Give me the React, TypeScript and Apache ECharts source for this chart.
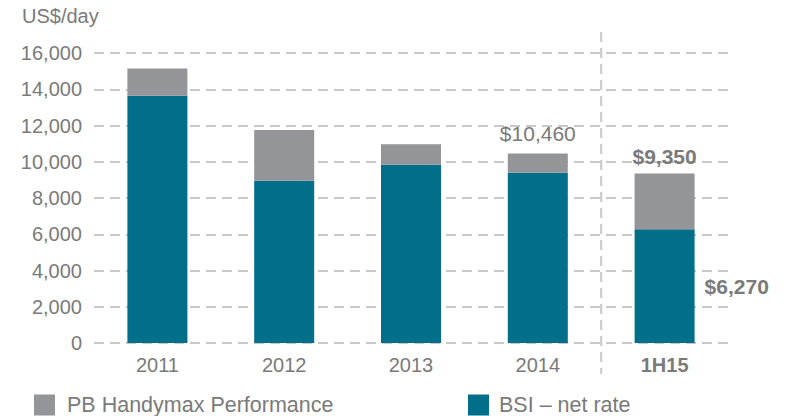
import React, { useEffect, useRef } from "react";
import * as echarts from "echarts";

const categories = ["2011", "2012", "2013", "2014", "1H15"];
const bsiNetRate = [13640, 8950, 9830, 9400, 6270];
const pbTotal = [15150, 11750, 10970, 10460, 9350];
const pbPremium = pbTotal.map((t, i) => t - bsiNetRate[i]);
const yTicks = { min: 0, max: 16000, interval: 2000 };

const TEAL = "#016f8a";
const GREY = "#939598";
const TEXT = "#7a7a7a";
const FONT = "Liberation Sans, Arial, sans-serif";

const fmt = (v: number) => "$" + v.toLocaleString("en-US");

export default function App() {
  const ref = useRef<HTMLDivElement>(null);
  useEffect(() => {
    if (!ref.current) return;
    const chart = echarts.init(ref.current, null, { renderer: "svg" });
    const legendText = { color: TEXT, fontSize: 21.5, fontFamily: FONT, lineHeight: 21, padding: [0, 0, 0, 7] };
    chart.setOption({
      animation: false,
      textStyle: { fontFamily: FONT },
      grid: { left: 94, right: 60, top: 53, bottom: 73 },
      legend: [
        {
          data: ["PB Handymax Performance"],
          left: 34,
          top: 394,
          padding: 0,
          itemWidth: 21,
          itemHeight: 21,
          icon: "rect",
          textStyle: legendText,
        },
        {
          data: ["BSI \u2013 net rate"],
          left: 468,
          top: 394,
          padding: 0,
          itemWidth: 21,
          itemHeight: 21,
          icon: "rect",
          textStyle: { ...legendText, padding: [0, 0, 0, 5] },
        },
      ],
      xAxis: {
        type: "category",
        data: categories,
        axisLine: { show: false },
        axisTick: { show: false },
        axisLabel: {
          color: TEXT,
          fontSize: 20,
          margin: 12,
          fontFamily: FONT,
          formatter: (v: string) => (v === "1H15" ? "{b|" + v + "}" : v),
          rich: { b: { fontWeight: "bold", fontSize: 20, color: TEXT, fontFamily: FONT } },
        },
      },
      yAxis: {
        type: "value",
        min: yTicks.min,
        max: yTicks.max,
        interval: yTicks.interval,
        axisLine: { show: false },
        axisTick: { show: false },
        axisLabel: {
          color: TEXT,
          fontSize: 20,
          margin: 12,
          fontFamily: FONT,
          formatter: (v: number) => v.toLocaleString("en-US"),
        },
        splitLine: { lineStyle: { color: "#c8c8c8", width: 2, type: [10, 6] } },
      },
      series: [
        {
          name: "BSI \u2013 net rate",
          type: "bar",
          stack: "s",
          barWidth: 60,
          itemStyle: { color: TEAL },
          data: bsiNetRate.map((v, i) =>
            i === 4
              ? {
                  value: v,
                  label: {
                    show: true,
                    position: "right",
                    distance: 10,
                    formatter: () => fmt(v),
                    color: TEXT,
                    fontSize: 21,
                    fontWeight: "bold",
                    fontFamily: FONT,
                  },
                }
              : v
          ),
        },
        {
          name: "PB Handymax Performance",
          type: "bar",
          stack: "s",
          barWidth: 60,
          itemStyle: { color: GREY },
          data: pbPremium.map((v, i) =>
            i >= 3
              ? {
                  value: v,
                  label: {
                    show: true,
                    position: "top",
                    distance: i === 3 ? 9 : 7,
                    formatter: () => fmt(pbTotal[i]),
                    color: TEXT,
                    fontSize: 21,
                    fontWeight: i === 4 ? "bold" : "normal",
                    fontFamily: FONT,
                  },
                }
              : v
          ),
        },
      ],
    });
    const x3 = chart.convertToPixel({ xAxisIndex: 0 }, categories[3]) as number;
    const x4 = chart.convertToPixel({ xAxisIndex: 0 }, categories[4]) as number;
    const xs = (x3 + x4) / 2;
    chart.setOption({
      graphic: [
        {
          type: "line",
          shape: { x1: xs, y1: 32, x2: xs, y2: 374 },
          style: { stroke: "#c8c8c8", lineWidth: 2, lineDash: [10, 6] },
          z: 0,
        },
        {
          type: "text",
          left: 22,
          top: 6,
          style: { text: "US$/day", fill: TEXT, fontSize: 20, fontFamily: FONT },
        },
      ],
    });
    return () => chart.dispose();
  }, []);
  return <div ref={ref} style={{ width: 788, height: 416, position: "absolute", left: 0, top: 0 }} />;
}
